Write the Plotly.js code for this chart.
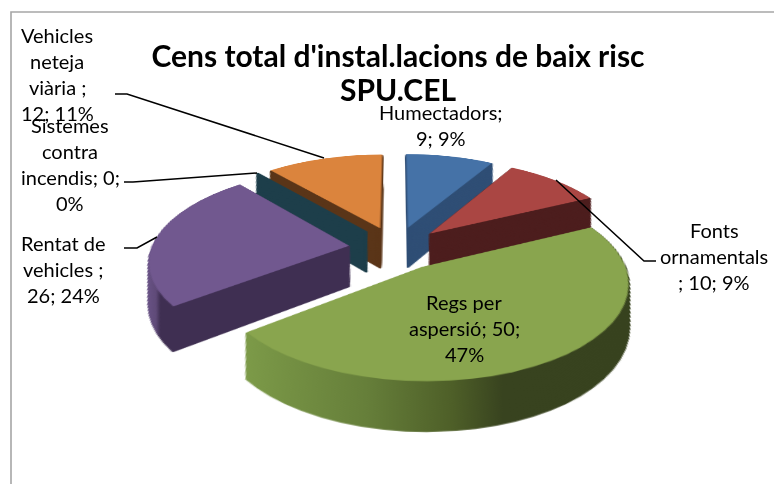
<!DOCTYPE html>
<html><head><meta charset="utf-8">
<script src="https://cdn.plot.ly/plotly-3.0.1.min.js"></script>
<style>
html,body{margin:0;padding:0;background:#fff;width:774px;height:484px;overflow:hidden}
#stage{position:absolute;left:0;top:0;width:774px;height:484px;overflow:hidden}
#pie{position:absolute;left:0;top:0;width:774px;height:700px;transform-origin:396px 248px;
 transform:perspective(1155px) rotateX(62.7deg) scale(1.315)}
#over{position:absolute;left:0;top:0;width:774px;height:484px}
</style></head><body>
<div id="stage"><div id="pie"></div><div id="over"></div></div>
<script>
var categories=["Humectadors","Fonts ornamentals","Regs per aspersió","Rentat de vehicles","Sistemes contra incendis","Vehicles neteja viària"];
var values=[9,10,50,26,0,12];
var topColors=["#4572a7","#aa4643","#89a54e","#71588f","#4198af","#db843d"];
var sideColors=["#2f4e75","#4d1e1e","#38431f","#3f2f52","#1d3e4a","#5a3518"];
var pulls=[0.24,0.24,0.24,0.24,0.24,0.24];
var paintOrder=[5,0,4,3,1,2];
var titleText="Cens total d'instal.lacions de baix risc<br>SPU.CEL";
var labelLines=[
 ["Humectadors;","9; 9%"],
 ["Fonts","ornamentals","; 10; 9%"],
 ["Regs per","aspersió; 50;","47%"],
 ["Rentat de","vehicles ;","26; 24%"],
 ["Sistemes","contra","incendis; 0;","0%"],
 ["Vehicles","neteja","viària ;","12; 11%"]];
var labelX=[441,714,464,63,70,57];
var labelY=[112,230,302,243,125,35];
var lineGap=26;
var leaders=[
 [[556,180],[644,261],[656,261]],
 [[157,237],[137,248],[124,248]],
 [[257,173],[133,182],[124,182]],
 [[324,158],[127,94],[115,94]]];
var frame=[[11,484],[11,12],[774,12]];

var H=700,W=774,R=150,maxP=0.24,half=R*(1+maxP),cx=396,cy=248;
var layers=50,depthStep=1.27,persp=1155,scl=1.315,sinT=0.889;
var traces=[];
function pieTrace(s,d){
  var colors=topColors.map(function(c,i){
    if(i!==s)return "rgba(0,0,0,0)";
    return (d===0&&values[i]>0)?c:sideColors[i];});
  var lw=values.map(function(v,i){return i===s?(values[i]===0?2.2:(d===0?0:1.6)):0;});
  var lc=colors.slice();
  var yc=(H-cy-d*depthStep)/H;
  var h=half*(1-scl*d*depthStep*sinT/persp);
  return {type:"pie",values:values,labels:categories,sort:false,direction:"clockwise",rotation:0,
    pull:pulls,textinfo:"none",hoverinfo:"skip",showlegend:false,
    marker:{colors:colors,line:{color:lc,width:lw}},
    domain:{x:[(cx-h)/W,(cx+h)/W],y:[yc-h/H,yc+h/H]}};
}
paintOrder.forEach(function(s){
  for(var d=layers;d>=0;d--)traces.push(pieTrace(s,d));
});
var pieLayout={width:W,height:H,margin:{l:0,r:0,t:0,b:0},paper_bgcolor:"rgba(0,0,0,0)",plot_bgcolor:"rgba(0,0,0,0)",showlegend:false};

Plotly.newPlot("pie",traces,pieLayout,{staticPlot:true,displayModeBar:false}).then(function(gd){
  var svg=gd.querySelector(".main-svg");
  var ns="http://www.w3.org/2000/svg";
  var defs=document.createElementNS(ns,"defs");
  function grad(id,stops){
    var g=document.createElementNS(ns,"linearGradient");
    g.setAttribute("id",id);g.setAttribute("x1","0");g.setAttribute("x2","1");g.setAttribute("y1","0");g.setAttribute("y2","0");
    stops.forEach(function(st){var e=document.createElementNS(ns,"stop");e.setAttribute("offset",st[0]);e.setAttribute("stop-color",st[1]);g.appendChild(e);});
    defs.appendChild(g);
  }
  grad("gGreen",[[0,"#7c9a48"],[0.3,"#667f3a"],[0.5,"#4e5f28"],[0.62,"#38431f"],[1,"#37421e"]]);
  grad("gPurple",[[0,"#6a5488"],[0.1,"#5f4a78"],[0.13,"#3f2f52"],[1,"#3f2f52"]]);
  svg.insertBefore(defs,svg.firstChild);
  var tr=gd.querySelectorAll(".pielayer .trace");
  tr.forEach(function(t,ti){
    var s=paintOrder[Math.floor(ti/(layers+1))];
    var d=layers-(ti%(layers+1));
    if(d===0||(s!==2&&s!==3))return;
    t.querySelectorAll(".slice path.surface").forEach(function(p){
      var f=p.style.fill;
      if(f.indexOf("rgba(0, 0, 0, 0)")===0||f==="transparent")return;
      var id=s===2?"gGreen":"gPurple";
      p.style.fill="url(#"+id+")";p.style.stroke="url(#"+id+")";
    });
  });
});

var shapes=[];
function addPath(pts,color,width){
  shapes.push({type:"path",xref:"x",yref:"y",
    path:pts.map(function(p,i){return (i?"L":"M")+p[0]+","+p[1];}).join(" "),
    line:{color:color,width:width},fillcolor:"rgba(0,0,0,0)"});
}
addPath(frame,"#a6a6a6",1.6);
leaders.forEach(function(l){addPath(l,"#000000",1.5);});
var anns=[];
labelLines.forEach(function(lines,i){
  lines.forEach(function(t,j){
    anns.push({xref:"x",yref:"y",x:labelX[i],y:labelY[i]+j*lineGap,text:t,showarrow:false,xanchor:"center",yanchor:"middle",
      font:{family:"Lato, Carlito, sans-serif",size:20,color:"#000"}});
  });
});
Plotly.newPlot("over",[],{width:W,height:484,margin:{l:0,r:0,t:0,b:0},paper_bgcolor:"rgba(0,0,0,0)",plot_bgcolor:"rgba(0,0,0,0)",
  xaxis:{visible:false,range:[0,774],fixedrange:true},yaxis:{visible:false,range:[484,0],fixedrange:true},
  title:{text:titleText,font:{family:"Lato, Carlito, sans-serif",size:30,color:"#000",weight:700},x:398/774,xanchor:"center",y:1-67/484,yanchor:"middle"},
  shapes:shapes,annotations:anns,showlegend:false},{staticPlot:true,displayModeBar:false}).then(function(gd){
  var t=gd.querySelectorAll(".gtitle tspan.line");
  if(t.length===2){t[1].removeAttribute("y");t[1].setAttribute("dy","34px");}
});
</script>
</body></html>
